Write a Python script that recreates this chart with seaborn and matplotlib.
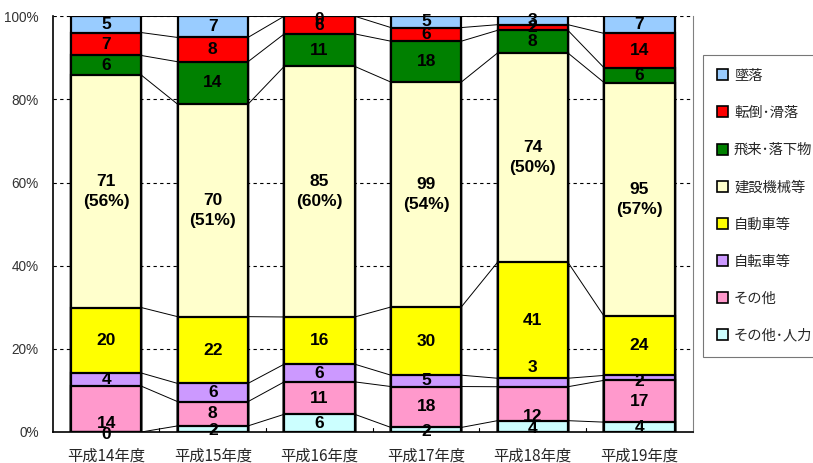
import numpy as np
import pandas as pd
import matplotlib
matplotlib.use("Agg")
import matplotlib.pyplot as plt
import seaborn as sns
from matplotlib.patches import Patch

sns.set_theme(style="white")
plt.rcParams['font.family'] = ['Liberation Sans', 'Noto Sans CJK JP', 'DejaVu Sans']

years = ["平成14年度", "平成15年度", "平成16年度", "平成17年度", "平成18年度", "平成19年度"]
# bottom to top
series = ["その他･人力", "その他", "自転車等", "自動車等", "建設機械等", "飛来･落下物", "転倒･滑落", "墜落"]
colors = ["#CCFFFF", "#FF99CC", "#CC99FF", "#FFFF00", "#FFFFCC", "#008000", "#FF0000", "#99CCFF"]

sonota_jinriki = [0, 2, 6, 2, 4, 4]
sonota = [14, 8, 11, 18, 12, 17]
jitensha = [4, 6, 6, 5, 3, 2]
jidousha = [20, 22, 16, 30, 41, 24]
kensetsu = [71, 70, 85, 99, 74, 95]
hirai = [6, 14, 11, 18, 8, 6]
tentou = [7, 8, 6, 6, 2, 14]
tsuiraku = [5, 7, 0, 5, 3, 7]
kensetsu_pct = ["56%", "51%", "60%", "54%", "50%", "57%"]

# label nudges (in percent units): (year index, series index) -> dy
label_nudge = {(0, 0): -0.7, (0, 1): -3.4, (4, 1): -3.1, (4, 2): 3.7, (4, 0): -0.6,
               (1, 0): -0.3, (3, 0): -0.5, (5, 2): -0.8, (2, 7): -0.8}

values = np.array([sonota_jinriki, sonota, jitensha, jidousha, kensetsu, hirai, tentou, tsuiraku], dtype=float)
totals = values.sum(axis=0)
frac = values / totals * 100
cum = np.cumsum(frac, axis=0)

fig = plt.figure(figsize=(8.13, 4.63), dpi=100)
ax = fig.add_axes([0.065, 0.067, 0.787, 0.898])

bw = 0.66
for g in [20, 40, 60, 80, 100]:
    ax.axhline(g, color="black", linestyle=(0, (3, 3)), linewidth=0.8, zorder=0)

for k in range(len(series) - 1, -1, -1):
    df = pd.DataFrame({"year": years, "cum": cum[k]})
    sns.barplot(data=df, x="year", y="cum", color=colors[k], saturation=1,
                width=bw, edgecolor="black", linewidth=1.6, ax=ax, zorder=2)

for i in range(len(years) - 1):
    for k in range(len(series)):
        ax.plot([i + bw / 2, i + 1 - bw / 2], [cum[k][i], cum[k][i + 1]],
                color="black", linewidth=0.7, zorder=1)

for i in range(len(years)):
    for k in range(len(series)):
        bottom = cum[k][i] - frac[k][i]
        yc = bottom + frac[k][i] / 2 + label_nudge.get((i, k), 0)
        txt = f"{int(values[k][i])}"
        if k == 4:
            txt = f"{int(values[k][i])}\n({kensetsu_pct[i]})"
        ax.text(i, yc, txt, ha="center", va="center", fontsize=12.5, fontweight="bold",
                color="black", zorder=5, linespacing=1.45, clip_on=False)

ax.set_xlim(-0.5, 5.5)
ax.set_ylim(0, 100)
ax.set_yticks([0, 20, 40, 60, 80, 100])
ax.set_yticklabels(["0%", "20%", "40%", "60%", "80%", "100%"], fontsize=9.8, color="#333333")
ax.set_xticks(range(len(years)))
ax.set_xticklabels(years, fontsize=11, family=['Noto Sans CJK JP', 'DejaVu Sans'])
ax.tick_params(axis="x", length=0, pad=11)
ax.tick_params(axis="y", length=0, pad=10)
ax.set_xlabel("")
ax.set_ylabel("")
for xb in np.arange(0.5, 5.5, 1):
    ax.plot([xb, xb], [0, 1], color="black", linewidth=0.8, zorder=3)

ax.spines["top"].set_visible(False)
ax.spines["right"].set_color("#808080")
ax.spines["right"].set_linewidth(0.8)
ax.spines["left"].set_color("black")
ax.spines["left"].set_linewidth(1.2)
ax.spines["bottom"].set_color("black")
ax.spines["bottom"].set_linewidth(1.2)

handles = [Patch(facecolor=colors[k], edgecolor="black", linewidth=1.2, label=series[k])
           for k in range(len(series) - 1, -1, -1)]
leg = fig.legend(handles=handles, loc="upper left", bbox_to_anchor=(0.865, 0.881),
                 frameon=True, fancybox=False, edgecolor="#555555",
                 prop={'family': ['Noto Sans CJK JP', 'DejaVu Sans'], 'size': 10.3},
                 handlelength=0.8, handleheight=0.8, handletextpad=0.4,
                 labelspacing=1.62, borderpad=0.95, borderaxespad=0)
leg.get_frame().set_linewidth(0.8)

fig.savefig("out.png", dpi=100)
